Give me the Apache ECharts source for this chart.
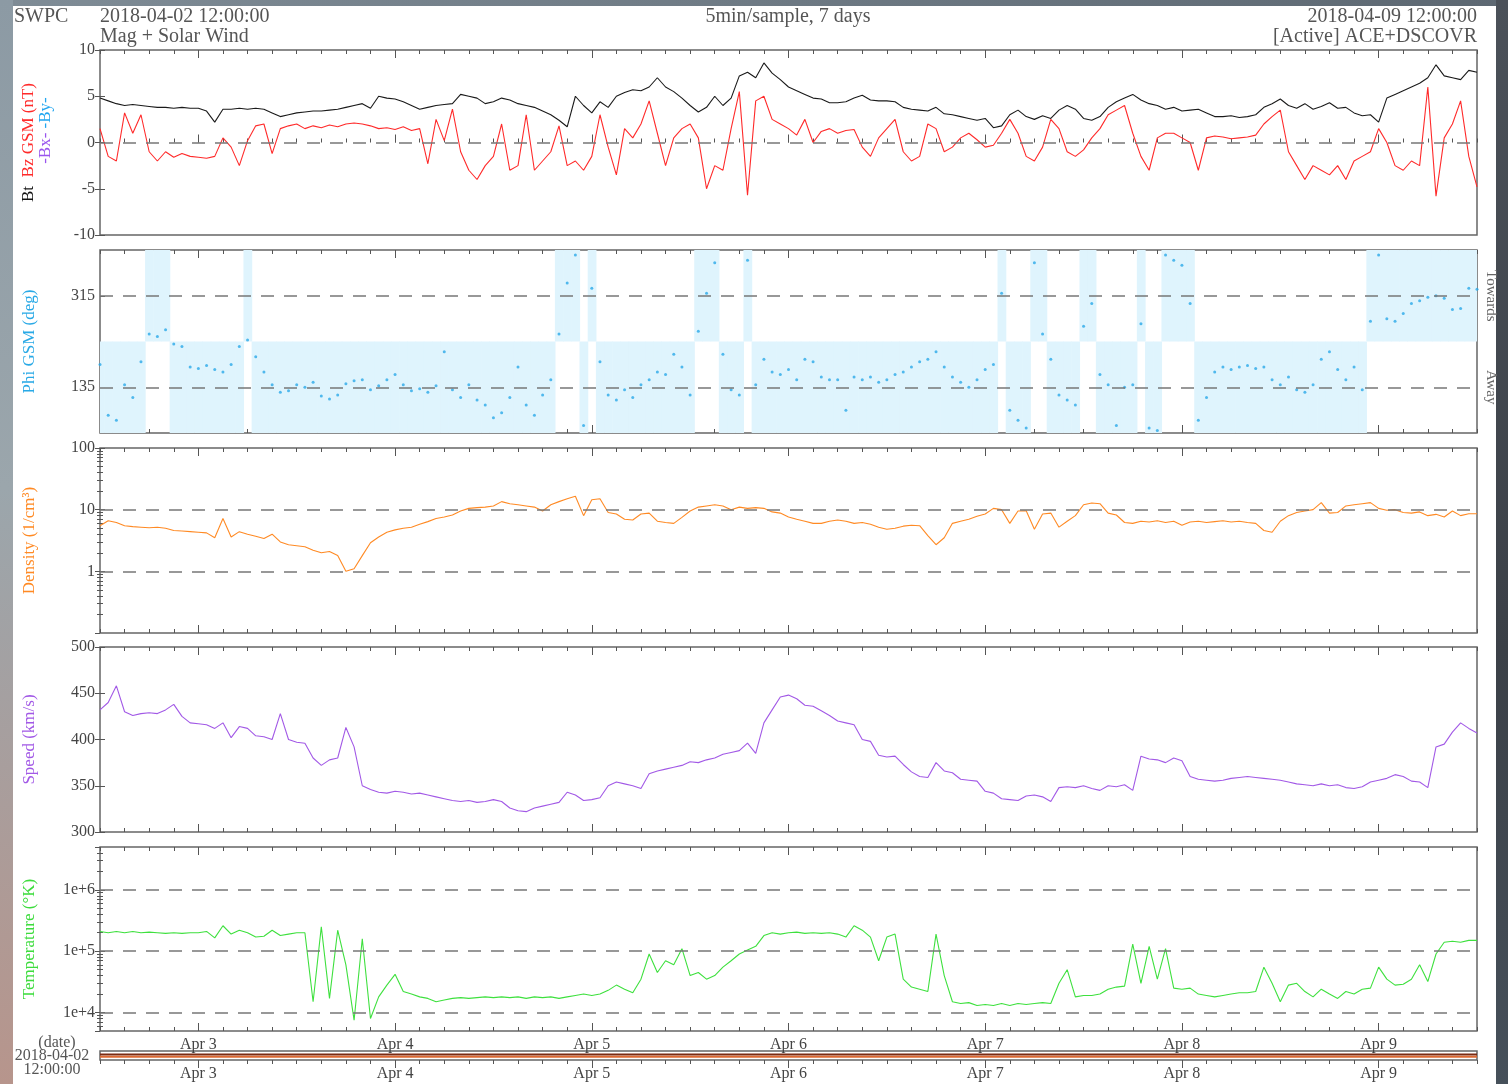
<!DOCTYPE html>
<html>
<head>
<meta charset="utf-8">
<title>SWPC Mag + Solar Wind</title>
<script src="https://cdn.jsdelivr.net/npm/echarts@6.0.0/dist/echarts.min.js"></script>
<style>
  html, body { margin: 0; padding: 0; width: 1508px; height: 1084px; overflow: hidden; }
  .frame { position: absolute; }
  #frameTop { left: 0; top: 0; width: 1508px; height: 6px; background: linear-gradient(to right, #7f8c96, #5d6872); }
  #frameLeft { left: 0; top: 0; width: 13px; height: 1084px; background: linear-gradient(to bottom, #8c9aa4, #9ba6ac 45%, #b7958c); }
  #frameRight { left: 1496px; top: 0; width: 12px; height: 1084px; background: linear-gradient(to bottom, #4b5159, #3b4047 60%, #46505a); }
  #paper { left: 13px; top: 6px; width: 1483px; height: 1078px; background: #fff; }
  #chart { left: 0; top: 0; width: 1508px; height: 1084px; }
</style>
</head>
<body>
<div class="frame" id="frameTop"></div>
<div class="frame" id="frameLeft"></div>
<div class="frame" id="frameRight"></div>
<div class="frame" id="paper"></div>
<div class="frame" id="chart"></div>
<script>
// hourly samples, hour 0 = 2018-04-02 12:00 UTC, hour 168 = 2018-04-09 12:00
var dayTicks = [12, 36, 60, 84, 108, 132, 156];
var dayLabels = ['Apr 3', 'Apr 4', 'Apr 5', 'Apr 6', 'Apr 7', 'Apr 8', 'Apr 9'];

// Bt (nT)
var bt = [
  4.8, 4.5, 4.2, 4.0, 4.1, 4.0, 3.9, 3.8, 3.8, 3.7, 3.8, 3.7,
  3.7, 3.4, 2.2, 3.6, 3.6, 3.7, 3.6, 3.7, 3.6, 3.2, 2.8, 3.0,
  3.2, 3.3, 3.4, 3.4, 3.5, 3.6, 3.8, 4.0, 4.2, 3.7, 5.0, 4.8,
  4.7, 4.4, 4.0, 3.6, 3.8, 4.0, 4.1, 4.2, 5.2, 5.0, 4.8, 4.2,
  4.4, 4.8, 4.6, 4.2, 4.0, 3.8, 3.4, 3.0, 2.4, 1.7, 5.0, 4.0,
  3.2, 4.4, 3.8, 5.0, 5.4, 5.7, 5.6, 6.0, 7.0, 6.0, 5.5, 4.8,
  4.0, 3.3, 3.8, 5.0, 4.0, 4.8, 7.2, 7.6, 7.0, 8.6, 7.5, 6.8,
  6.0, 5.6, 5.2, 4.8, 4.7, 4.3, 4.3, 4.4, 4.8, 5.1, 4.6, 4.5,
  4.5, 4.4, 3.8, 3.6, 3.5, 3.4, 3.8, 3.1, 3.0, 2.8, 2.6, 2.4,
  2.6, 1.6, 1.8, 3.0, 3.5, 2.8, 2.5, 2.9, 2.6, 3.5, 4.0, 3.6,
  2.6, 2.4, 2.8, 3.8, 4.4, 4.8, 5.2, 4.6, 4.2, 4.0, 3.6, 3.8,
  3.4, 3.5, 3.6, 3.2, 2.8, 2.8, 2.9, 2.7, 2.8, 3.0, 3.8, 4.2,
  4.7, 4.0, 3.7, 4.2, 3.6, 3.9, 4.3, 3.7, 3.8, 3.2, 2.9, 3.0,
  2.2, 4.8, 5.2, 5.6, 6.0, 6.4, 7.0, 8.4, 7.2, 7.0, 6.8, 7.8,
  7.6
];

// Bz GSM (nT)
var bz = [
  1.5, -1.5, -2.0, 3.2, 1.0, 3.0, -1.0, -2.0, -1.0, -1.6, -1.2, -1.5,
  -1.6, -1.7, -1.5, 0.5, -0.5, -2.5, 0.2, 1.8, 2.0, -1.2, 1.5, 1.8,
  2.0, 1.5, 1.8, 1.6, 1.9, 1.7, 2.0, 2.1, 2.0, 1.8, 1.5, 1.6,
  1.4, 1.7, 1.3, 1.5, -2.3, 2.5, 0.2, 3.6, -1.0, -3.0, -4.0, -2.5,
  -1.5, 2.0, -3.0, -2.5, 3.0, -3.0, -2.0, -1.0, 1.8, -2.5, -2.0, -3.0,
  -1.5, 3.0, -0.5, -3.5, 1.5, 0.5, 2.0, 4.5, 1.0, -2.5, 0.5, 1.5,
  2.0, 0.5, -5.0, -2.5, -3.0, 1.5, 5.5, -5.7, 4.5, 5.0, 2.5, 2.0,
  1.5, 0.8, 2.5, 0.0, 1.2, 1.5, 1.0, 1.3, 1.4, -0.5, -1.5, 0.5,
  1.5, 2.5, -1.0, -2.0, -1.5, 2.0, 1.5, -1.0, -0.5, 0.5, 1.0, 0.3,
  -0.5, -0.3, 1.0, 2.5, 1.0, -1.5, -2.0, -0.5, 2.5, 1.5, -1.0, -1.5,
  -0.8, 0.5, 1.5, 3.0, 3.5, 4.0, 1.0, -1.5, -3.0, 0.5, 1.0, 1.0,
  0.5, 0.0, -3.0, 0.5, 0.7, 0.6, 0.4, 0.5, 0.6, 0.8, 2.0, 2.8,
  3.5, -1.0, -2.5, -4.0, -2.5, -3.0, -3.5, -2.5, -4.0, -2.0, -1.5, -1.0,
  1.5, 0.0, -2.5, -3.0, -2.0, -2.5, 6.0, -5.8, 0.5, 2.0, 4.5, -1.5,
  -4.8
];

// Phi GSM (deg), axis runs 45..405
var phi = [
  180, 80, 70, 140, 115, 185, 240, 235, 248, 220, 215, 175,
  172, 178, 170, 165, 180, 215, 228, 195, 165, 140, 125, 128,
  140, 135, 145, 118, 112, 120, 142, 148, 150, 130, 138, 150,
  160, 140, 128, 132, 125, 138, 205, 130, 115, 140, 110, 100,
  75, 85, 115, 175, 100, 80, 120, 150, 240, 340, 395, 60,
  330, 185, 120, 110, 130, 115, 140, 150, 165, 160, 200, 175,
  120, 245, 320, 380, 200, 130, 120, 385, 140, 190, 165, 160,
  170, 150, 190, 185, 155, 150, 150, 90, 155, 150, 155, 145,
  150, 160, 165, 175, 185, 190, 205, 175, 155, 145, 135, 150,
  170, 180, 320, 90, 70, 55, 380, 240, 190, 120, 110, 100,
  255, 300, 160, 140, 60, 135, 140, 260, 55, 50, 395, 385,
  375, 300, 70, 115, 165, 175, 170, 175, 178, 172, 175, 150,
  140, 155, 130, 125, 140, 190, 205, 170, 150, 175, 130, 265,
  395, 270, 265, 280, 300, 305, 312, 315, 310, 288, 290, 330,
  328
];
var awaySector = [45, 225];
var towardsSector = [225, 405];

// Density (1/cm3)
var density = [
  5.5, 6.6, 6.2, 5.5, 5.3, 5.2, 5.1, 5.2, 5.0, 4.6, 4.5, 4.4,
  4.3, 4.2, 3.5, 7.2, 3.6, 4.4, 4.0, 3.7, 3.4, 4.0, 3.0, 2.7,
  2.6, 2.5, 2.2, 2.0, 2.1, 1.8, 1.0, 1.1, 1.8, 2.9, 3.6, 4.3,
  4.7, 5.0, 5.2, 5.8, 6.4, 7.2, 7.6, 8.2, 9.5, 10.5, 10.8, 11.0,
  11.5, 13.5, 12.5, 12.0, 11.5, 11.0, 9.5, 12.0, 13.5, 15.0, 16.5, 8.0,
  14.5, 15.0, 9.0, 8.5, 7.0, 6.8, 8.5, 8.8, 6.5, 6.2, 6.0, 7.5,
  9.5, 11.0, 11.5, 12.0, 11.5, 10.0, 11.0, 10.5, 10.8, 10.5, 9.2, 8.8,
  7.6, 7.0, 6.5, 6.0, 6.0, 6.5, 6.8, 6.5, 6.0, 6.2, 5.8, 5.2,
  4.8, 5.0, 5.4, 5.6, 5.5, 3.8, 2.7, 3.5, 6.0, 6.5, 7.0, 7.8,
  8.5, 10.5, 10.0, 6.0, 9.5, 9.6, 4.8, 8.5, 8.8, 5.2, 6.5, 8.0,
  12.0, 12.8, 12.5, 8.8, 8.2, 6.2, 6.0, 6.5, 6.3, 6.6, 6.2, 6.5,
  5.6, 6.3, 6.5, 6.2, 6.4, 6.6, 6.3, 6.5, 6.2, 6.0, 4.6, 4.3,
  6.5, 8.0, 9.0, 9.5, 10.0, 13.0, 8.8, 9.0, 11.5, 12.0, 12.5, 13.0,
  10.5, 9.8, 10.0, 9.0, 8.8, 9.2, 8.0, 8.4, 7.6, 9.5, 8.0, 8.6,
  8.6
];

// Speed (km/s)
var speed = [
  432, 440, 458, 430, 426, 428, 429, 428, 432, 438, 425, 418,
  417, 416, 412, 418, 402, 414, 412, 404, 403, 400, 428, 400,
  397, 396, 380, 372, 378, 380, 413, 392, 350, 346, 343, 342,
  344, 343, 341, 342, 340, 338, 336, 334, 333, 334, 332, 333,
  335, 333, 326, 323, 322, 326, 328, 330, 332, 343, 340, 334,
  335, 337, 350, 354, 352, 350, 347, 363, 366, 368, 370, 372,
  376, 375, 378, 380, 384, 386, 388, 396, 385, 418, 432, 446,
  448, 444, 437, 436, 431, 426, 420, 418, 416, 400, 398, 383,
  381, 382, 373, 365, 360, 359, 375, 366, 364, 357, 356, 355,
  344, 342, 336, 335, 334, 339, 340, 338, 333, 348, 349, 348,
  350, 347, 345, 350, 349, 351, 345, 382, 379, 378, 375, 380,
  377, 360, 357, 356, 355, 356, 358, 359, 360, 359, 358, 357,
  356, 354, 352, 351, 350, 352, 350, 351, 348, 347, 349, 354,
  356, 358, 362, 360, 355, 354, 348, 392, 395, 408, 418, 412,
  407
];

// Temperature (K)
var temperature = [
  2.1e5, 2.0e5, 2.1e5, 2.0e5, 2.1e5, 2.0e5, 2.05e5, 2.0e5, 1.95e5, 2.0e5, 1.95e5, 2.0e5,
  2.0e5, 2.1e5, 1.65e5, 2.6e5, 1.9e5, 2.2e5, 2.0e5, 1.7e5, 1.75e5, 2.2e5, 1.8e5, 1.9e5,
  2.0e5, 2.0e5, 1.5e4, 2.5e5, 1.7e4, 2.2e5, 6.0e4, 7.5e3, 1.6e5, 8.0e3, 1.8e4, 2.8e4,
  4.2e4, 2.2e4, 2.0e4, 1.8e4, 1.7e4, 1.5e4, 1.6e4, 1.7e4, 1.75e4, 1.7e4, 1.75e4, 1.8e4,
  1.75e4, 1.8e4, 1.75e4, 1.8e4, 1.7e4, 1.8e4, 1.75e4, 1.8e4, 1.7e4, 1.8e4, 1.9e4, 2.0e4,
  1.9e4, 2.0e4, 2.3e4, 2.8e4, 2.4e4, 2.1e4, 3.5e4, 9.0e4, 4.5e4, 7.0e4, 6.0e4, 1.1e5,
  4.0e4, 4.5e4, 3.5e4, 4.0e4, 5.5e4, 7.0e4, 9.0e4, 1.05e5, 1.2e5, 1.8e5, 2.0e5, 1.9e5,
  2.0e5, 2.05e5, 1.95e5, 2.0e5, 1.95e5, 2.0e5, 1.9e5, 1.7e5, 2.6e5, 2.2e5, 1.7e5, 7.0e4,
  1.7e5, 1.9e5, 3.5e4, 2.6e4, 2.4e4, 2.2e4, 1.9e5, 4.0e4, 1.5e4, 1.4e4, 1.45e4, 1.3e4,
  1.35e4, 1.3e4, 1.4e4, 1.3e4, 1.4e4, 1.35e4, 1.4e4, 1.45e4, 1.4e4, 3.0e4, 5.0e4, 1.8e4,
  1.9e4, 1.9e4, 2.0e4, 2.4e4, 2.6e4, 2.7e4, 1.3e5, 3.0e4, 1.2e5, 3.5e4, 1.1e5, 2.5e4,
  2.4e4, 2.5e4, 2.0e4, 1.9e4, 1.8e4, 1.9e4, 2.0e4, 2.1e4, 2.1e4, 2.2e4, 5.5e4, 3.0e4,
  1.5e4, 2.8e4, 3.0e4, 2.2e4, 1.8e4, 2.4e4, 2.0e4, 1.7e4, 2.2e4, 2.0e4, 2.4e4, 2.5e4,
  5.5e4, 3.5e4, 2.8e4, 2.9e4, 3.5e4, 6.0e4, 3.2e4, 9.0e4, 1.4e5, 1.45e5, 1.4e5, 1.5e5,
  1.5e5
];

// active spacecraft strip under the plots
var stripLevels = [0.62, 0.36];
var stripColors = ['#7a2a12', '#dc6a34'];

var FONT = '"Liberation Serif", "DejaVu Serif", serif';
var AXIS_GRAY = '#555';
var LABEL_GRAY = '#444';

function pairs(vals) {
  return vals.map(function (v, i) { return [i, v]; });
}

// 2..9 minor ticks of each decade inside [lo, hi]
function logMinor(lo, hi) {
  var out = [];
  for (var d = Math.floor(Math.log10(lo)); d <= Math.ceil(Math.log10(hi)); d++) {
    for (var m = 2; m <= 9; m++) {
      var v = m * Math.pow(10, d);
      if (v > lo * 1.0001 && v < hi * 0.9999) out.push(v);
    }
  }
  return out;
}

var panels = [
  { top: 50, height: 185 },
  { top: 250, height: 183 },
  { top: 448, height: 185 },
  { top: 647, height: 185 },
  { top: 847, height: 184 },
  { top: 1051, height: 9 }
];

var grids = panels.map(function (p) {
  return {
    left: 100, width: 1377, top: p.top, height: p.height,
    show: true, borderColor: '#666', borderWidth: 1.5, backgroundColor: 'transparent'
  };
});

// four time axes per panel: major/minor ticks on bottom and top
var xAxes = [];
var mainX = [];
function hourAxis(g, pos, major, withLabels, inside) {
  var ax = {
    gridIndex: g, type: 'value', position: pos, min: 0, max: 168,
    axisLine: { show: false }, splitLine: { show: false },
    axisTick: { show: true, inside: inside, length: major ? 8 : 4, lineStyle: { color: AXIS_GRAY, width: 1 } },
    axisLabel: { show: false }
  };
  if (major) {
    ax.axisTick.customValues = dayTicks;
    if (withLabels) {
      ax.axisLabel = {
        show: true, customValues: dayTicks, margin: inside ? 6 : 6,
        color: LABEL_GRAY, fontSize: 16, fontFamily: FONT,
        formatter: function (v) { return dayLabels[dayTicks.indexOf(Math.round(v))] || ''; }
      };
    }
  } else {
    ax.interval = 3;
  }
  return ax;
}
panels.forEach(function (p, g) {
  var strip = g === 5;
  mainX.push(xAxes.length);
  xAxes.push(hourAxis(g, 'bottom', true, g >= 4, !strip));
  xAxes.push(hourAxis(g, 'bottom', false, false, !strip));
  if (!strip) {
    xAxes.push(hourAxis(g, 'top', true, false, true));
    xAxes.push(hourAxis(g, 'top', false, false, true));
  }
});

function yLabel(extra) {
  var o = { color: LABEL_GRAY, fontSize: 16, fontFamily: FONT, margin: 5 };
  for (var k in extra) o[k] = extra[k];
  return o;
}
function yTick(len) {
  return { show: true, inside: true, length: len || 5, lineStyle: { color: AXIS_GRAY } };
}
function yName(text, color) {
  return {
    name: text, nameLocation: 'middle', nameRotate: 90, nameGap: 62,
    nameTextStyle: { color: color, fontSize: 17, fontFamily: FONT }
  };
}
function merge(a, b) { for (var k in b) a[k] = b[k]; return a; }

var logFmtDensity = function (v) { return String(Math.round(v)); };
var logFmtTemp = function (v) { return '1e+' + Math.round(Math.log10(v)); };

var yAxes = [];
function addY(ax) { yAxes.push(ax); return yAxes.length - 1; }
function plainY(g, pos, type, lo, hi, tick) {
  var ax = {
    gridIndex: g, type: type, position: pos, min: lo, max: hi,
    axisLine: { show: false }, splitLine: { show: false },
    axisTick: tick, axisLabel: { show: false }
  };
  if (type === 'log') ax.logBase = 10;
  return ax;
}

// Bt / Bz
var yMag = addY(merge({
  gridIndex: 0, type: 'value', min: -10, max: 10, interval: 5,
  axisLine: { show: false }, splitLine: { show: false },
  axisTick: yTick(), axisLabel: yLabel({})
}, {
  name: '{k|Bt}  {r|Bz GSM (nT)}\n{sp| }{p|-Bx-} {b|-By-}',
  nameLocation: 'middle', nameRotate: 90, nameGap: 46,
  nameTextStyle: {
    fontFamily: FONT, fontSize: 17, lineHeight: 17,
    rich: {
      k: { color: '#111', fontSize: 17, fontFamily: FONT },
      r: { color: '#ff2a2a', fontSize: 17, fontFamily: FONT },
      p: { color: '#9a55ee', fontSize: 17, fontFamily: FONT },
      b: { color: '#22a6f0', fontSize: 17, fontFamily: FONT },
      sp: { width: 24, fontSize: 17 }
    }
  }
}));
var magRight = plainY(0, 'right', 'value', -10, 10, yTick());
magRight.interval = 5;
addY(magRight);

// Phi
var yPhi = addY(merge({
  gridIndex: 1, type: 'value', min: awaySector[0], max: towardsSector[1],
  axisLine: { show: false }, splitLine: { show: false },
  axisTick: merge(yTick(), { customValues: [135, 315] }),
  axisLabel: yLabel({ customValues: [135, 315] })
}, yName('Phi GSM (deg)', '#29a9e6')));
var phiRight = plainY(1, 'right', 'value', awaySector[0], towardsSector[1], { show: false });
phiRight.axisLabel = {
  customValues: [135, 315], rotate: -90, margin: 6, color: '#666', fontSize: 15, fontFamily: FONT,
  formatter: function (v) { return Math.round(v) === 315 ? 'Towards' : 'Away'; }
};
addY(phiRight);

// Density
var yDen = addY(merge({
  gridIndex: 2, type: 'log', logBase: 10, min: 0.1, max: 100,
  axisLine: { show: false }, splitLine: { show: false },
  axisTick: yTick(),
  axisLabel: yLabel({ showMinLabel: false, formatter: logFmtDensity })
}, yName('Density (1/cm³)', '#ff8a24')));
addY(plainY(2, 'right', 'log', 0.1, 100, yTick()));
['left', 'right'].forEach(function (pos) {
  addY(plainY(2, pos, 'log', 0.1, 100, merge(yTick(3), { customValues: logMinor(0.1, 100) })));
});

// Speed
var ySpd = addY(merge({
  gridIndex: 3, type: 'value', min: 300, max: 500, interval: 50,
  axisLine: { show: false }, splitLine: { show: false },
  axisTick: yTick(), axisLabel: yLabel({})
}, yName('Speed (km/s)', '#a259e6')));
var spdRight = plainY(3, 'right', 'value', 300, 500, yTick());
spdRight.interval = 50;
addY(spdRight);

// Temperature
var yTmp = addY(merge({
  gridIndex: 4, type: 'log', logBase: 10, min: 5000, max: 5e6,
  axisLine: { show: false }, splitLine: { show: false },
  axisTick: yTick(),
  axisLabel: yLabel({ showMinLabel: false, showMaxLabel: false, formatter: logFmtTemp })
}, yName('Temperature (°K)', '#3ddc3d')));
addY(plainY(4, 'right', 'log', 5000, 5e6, yTick()));
['left', 'right'].forEach(function (pos) {
  addY(plainY(4, pos, 'log', 5000, 5e6, merge(yTick(3), { customValues: logMinor(5000, 5e6) })));
});

// strip
var yStrip = addY({ gridIndex: 5, type: 'value', min: 0, max: 1, show: false });

function dashed(values) {
  return {
    silent: true, symbol: ['none', 'none'], animation: false,
    label: { show: false },
    lineStyle: { color: '#777', type: [13, 10], width: 1.6 },
    emphasis: { disabled: true },
    data: values.map(function (v) { return { yAxis: v }; })
  };
}

function line(name, g, yi, vals, color, width, mark) {
  var s = {
    name: name, type: 'line', xAxisIndex: mainX[g], yAxisIndex: yi,
    data: pairs(vals), showSymbol: false, symbol: 'none',
    lineStyle: { color: color, width: width }, itemStyle: { color: color },
    emphasis: { disabled: true }, z: 3
  };
  if (mark) s.markLine = dashed(mark);
  return s;
}

var series = [
  line('Bz', 0, yMag, bz, '#ff2a2a', 1.1, [0]),
  line('Bt', 0, yMag, bt, '#1a1a1a', 1.1),
  {
    name: 'Sector', type: 'custom', xAxisIndex: mainX[1], yAxisIndex: yPhi,
    data: pairs(phi), clip: true, z: 1, silent: true,
    encode: { x: 0, y: 1 },
    renderItem: function (params, api) {
      var h = api.value(0), p = api.value(1);
      var sec = (p >= awaySector[0] && p < awaySector[1]) ? awaySector : towardsSector;
      var a = api.coord([h - 0.5, sec[1]]);
      var b = api.coord([h + 0.5, sec[0]]);
      return {
        type: 'rect',
        shape: { x: a[0], y: a[1], width: b[0] - a[0] + 0.6, height: b[1] - a[1] },
        style: { fill: '#dff4fd' }
      };
    }
  },
  {
    name: 'Phi', type: 'scatter', xAxisIndex: mainX[1], yAxisIndex: yPhi,
    data: pairs(phi), symbolSize: 3, itemStyle: { color: '#2aa9e9' },
    emphasis: { disabled: true }, z: 3, markLine: dashed([135, 315])
  },
  line('Density', 2, yDen, density, '#ff8a24', 1.1, [1, 10]),
  line('Speed', 3, ySpd, speed, '#a259e6', 1.1),
  line('Temperature', 4, yTmp, temperature, '#3ee03e', 1.1, [1e4, 1e5, 1e6])
];
stripLevels.forEach(function (lv, i) {
  series.push({
    name: 'Source ' + i, type: 'line', xAxisIndex: mainX[5], yAxisIndex: yStrip,
    data: [[0, lv], [168, lv]], showSymbol: false, symbol: 'none',
    lineStyle: { color: stripColors[i], width: 2 }, silent: true
  });
});

function txt(x, y, s, align, size) {
  return {
    type: 'text', x: x, y: y, silent: true,
    style: {
      text: s, fill: '#555', font: (size || 20) + 'px ' + FONT,
      align: align, textAlign: align, verticalAlign: 'middle', textVerticalAlign: 'middle'
    }
  };
}

var graphics = [
  txt(14, 17, 'SWPC', 'left'),
  txt(100, 17, '2018-04-02 12:00:00', 'left'),
  txt(100, 37, 'Mag + Solar Wind', 'left'),
  txt(788, 17, '5min/sample, 7 days', 'center'),
  txt(1477, 17, '2018-04-09 12:00:00', 'right'),
  txt(1477, 37, '[Active] ACE+DSCOVR', 'right'),
  txt(57, 1043, '(date)', 'center', 16),
  txt(52, 1056, '2018-04-02', 'center', 16),
  txt(52, 1070, '12:00:00', 'center', 16)
];

var chart = echarts.init(document.getElementById('chart'), null, { renderer: 'canvas' });
chart.setOption({
  animation: false,
  backgroundColor: 'transparent',
  textStyle: { fontFamily: FONT },
  grid: grids,
  xAxis: xAxes,
  yAxis: yAxes,
  series: series,
  graphic: graphics
});
</script>
</body>
</html>
